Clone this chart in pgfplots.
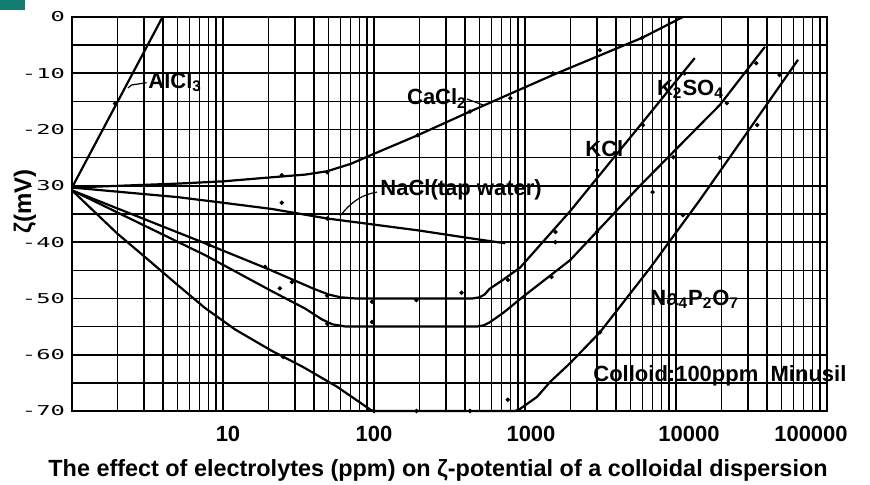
\documentclass[border=0pt]{standalone}
\usepackage{fontspec}
\setmainfont{Liberation Sans}
\newfontfamily\tickfont{DejaVu Sans Mono}
\usepackage{graphicx}
\usepackage{pgfplots}
\pgfplotsset{compat=1.18}
\definecolor{slideteal}{RGB}{20,125,115}
\begin{document}
\begin{tikzpicture}
\useasboundingbox (-36pt,-37pt) rectangle (399pt,205.5pt);
\fill[slideteal] (-36pt,200.5pt) rectangle (-23.5pt,205.5pt);
\begin{axis}[
  at={(0,0)}, anchor=south west,
  scale only axis, width=377.5pt, height=197pt,
  xmode=log, log basis x=10,
  xmin=1, xmax=100000, ymin=-70, ymax=0,
  xtick={10,100,1000,10000,100000},
  xticklabels={{\kern5pt 10},{100},{\kern6pt 1000},{\kern13pt 10000},{100000\kern16pt}},
  minor xtick={2,3,4,5,6,7,8,9,20,30,40,50,60,70,80,90,200,300,400,500,600,700,800,900,2000,3000,4000,5000,6000,7000,8000,9000,20000,30000,40000,50000,60000,70000,80000,90000},
  xticklabel style={font=\bfseries\fontsize{11}{13}\selectfont, anchor=base, yshift=-15.5pt},
  ytick={-70,-60,-50,-40,-30,-20,-10,0},
  yticklabel={\scalebox{1.75}[1]{\tickfont\fontsize{6.8}{8}\selectfont\pgfmathparse{int(\tick)}\pgfmathresult}},
  minor ytick={-65,-55,-45,-35,-25,-15,-5},
  grid=both,
  major grid style={black, line width=0.8pt},
  minor grid style={black, line width=0.75pt},
  tick style={draw=none},
  axis line style={black, line width=1pt},
  clip=false,
]
% AlCl3
\addplot[black, line width=1.1pt] coordinates {(1,-30.3) (3.98,0)};
% CaCl2
\addplot[black, line width=1.1pt] coordinates {(1,-30.3) (5,-29.6) (10,-29.2) (20.5,-28.5) (35,-28) (49,-27.4) (70,-26.1) (100,-24.3) (195,-21) (432,-16.8) (1530,-10.3) (5960,-3.7) (11100,0)};
% NaCl (tap water)
\addplot[black, line width=1.1pt] coordinates {(1,-30.3) (5,-32) (10,-33) (21,-34.1) (49,-35.8) (195,-37.9) (432,-39.3) (740,-40.2)};
% KCl
\addplot[black, line width=1.1pt] coordinates {(1,-30.8) (7.6,-40.2) (20,-44.8) (40,-48.3) (50,-49.3) (60,-49.8) (75,-50) (450,-50) (500,-49.8) (540,-49.3) (583,-48.3) (715,-46.7) (930,-44.5) (1990,-34.5) (6730,-17.1) (13300,-7.3)};
% K2SO4
\addplot[black, line width=1.1pt] coordinates {(1,-30.8) (7.6,-42.3) (21,-48.7) (35,-51.8) (45,-53.7) (53,-54.6) (65,-55) (480,-55) (530,-54.8) (580,-54.3) (715,-52.6) (970,-49.7) (1990,-43.2) (5760,-30) (19550,-15.6) (38800,-5.3)};
% Na4P2O7
\addplot[black, line width=1.1pt] coordinates {(1,-30.8) (2,-38.5) (3,-42.5) (5,-47.6) (7.6,-51.7) (12,-55.5) (21,-59.3) (34,-62.2) (57,-65.7) (95,-69.8) (100,-70) (860,-70) (930,-69.6) (1000,-69) (1200,-67.5) (1470,-64.8) (1990,-61.5) (3140,-56) (6730,-44.6) (14400,-32.5) (64300,-7.6)};
% measured points
\addplot[black, only marks, mark=*, mark size=0.9pt] coordinates {
(24.5,-28.1) (24.5,-33) (49,-27.6) (49,-35.8) (28.6,-47.1) (23.8,-48.2) (49,-49.5)
(97,-50.6) (97,-54.2) (191,-50.3) (380,-49) (25,-60.4) (49,-54.5) (8.1,-40.5) (19,-44.4)
(1590,-38.2) (1590,-40) (770,-46.7) (3000,-38.2) (1500,-46.2) (770,-68) (3140,-56)
(3130,-5.9) (800,-14.4) (1530,-10) (5960,-3.7) (3000,-27.2) (6040,-19.2) (34000,-8.2)
(48500,-10.3) (21700,-15.3) (34500,-19.2) (19500,-25) (9600,-24.9) (11400,-10) (7000,-31.1)
(11100,-35.2) (195,-21) (432,-16.8) (191,-70) (432,-70) (100,-70) (1.93,-15.4)};
% labels
\begin{scope}[every node/.style={font=\bfseries\fontsize{11}{13}\selectfont, inner sep=0pt, anchor=base west}]
\node at (axis cs:3.19,-12.67) {AlCl\textsubscript{3}};
\node at (axis cs:164.7,-15.6) {CaCl\textsubscript{2}};
\node at (axis cs:109.6,-31.8) {NaCl(tap water)};
\node at (axis cs:2497,-24.8) {KCl};
\node at (axis cs:7450,-13.86) {K\textsubscript{2}SO\textsubscript{4}};
\node at (axis cs:6730,-51.2) {Na\textsubscript{4}P\textsubscript{2}O\textsubscript{7}};
\node at (axis cs:2820,-64.8) {Colloid:100ppm\ \ Minusil};
\end{scope}
% leaders
\draw[line width=0.6pt] (axis cs:3.12,-11.67) -- (axis cs:2.48,-12.08) -- (axis cs:2.35,-12.6);
\draw[line width=0.6pt] (axis cs:413,-14.57) -- (axis cs:527,-15.63);
\draw[line width=0.6pt] (axis cs:104.7,-31.1) .. controls (axis cs:83.5,-31.6) and (axis cs:72,-32.6) .. (axis cs:59.6,-35.35);
\end{axis}
\node[rotate=90, anchor=base, font=\bfseries\fontsize{12}{14}\selectfont, inner sep=0pt] at (-20.5pt,104.75pt) {ζ(mV)};
\node[anchor=base, font=\bfseries\fontsize{11.7}{13}\selectfont, inner sep=0pt] at (183pt,-33pt) {The effect of electrolytes (ppm) on ζ-potential of a colloidal dispersion};
\end{tikzpicture}
\end{document}
